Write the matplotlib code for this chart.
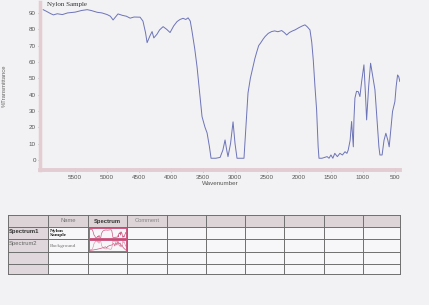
import matplotlib
matplotlib.use("Agg")
import matplotlib.pyplot as plt
from matplotlib.patches import Rectangle
from matplotlib.ticker import MultipleLocator

# ---------------- data ----------------
wavenumber = [6000, 5950, 5880, 5840, 5780, 5700, 5620, 5500, 5400, 5312, 5250, 5156,
              5080, 5000, 4950, 4907, 4860, 4830, 4760, 4700, 4640, 4580, 4485, 4440,
              4400, 4375, 4330, 4297, 4270, 4220, 4180, 4125, 4070, 4016, 3960, 3907,
              3860, 3813, 3770, 3734, 3700, 3672, 3630, 3594, 3550, 3516, 3470, 3437,
              3400, 3375, 3300, 3234, 3190, 3156, 3130, 3110, 3070, 3031, 3000, 2969,
              2900, 2860, 2830, 2797, 2760, 2725, 2690, 2661, 2630, 2600, 2560, 2531,
              2480, 2427, 2380, 2330, 2270, 2230, 2192, 2150, 2100, 2062, 2000, 1950,
              1906, 1870, 1828, 1800, 1776, 1750, 1724, 1700, 1687, 1640, 1600, 1560,
              1530, 1500, 1470, 1440, 1400, 1360, 1320, 1280, 1250, 1230, 1200, 1177,
              1150, 1140, 1125, 1100, 1073, 1047, 1020, 984, 960, 942, 910, 880, 850,
              812, 780, 750, 734, 700, 670, 641, 610, 589, 560, 537, 500, 480, 458,
              440, 422]
transmittance = [92, 91, 89.5, 88.8, 89.5, 89, 90, 90.5, 91.5, 92, 91.5, 90.4,
                 90, 89, 88, 85.7, 88, 89.4, 88.5, 88, 86.8, 87.5, 87.4, 85,
                 78, 71.8, 76, 78.6, 74.7, 77, 79.6, 81.6, 80, 78, 82, 84.7,
                 86, 86.7, 86, 87, 85, 78.6, 68, 57, 40, 26.5, 20, 16.5,
                 8, 1, 1, 1.5, 6, 12.2, 6, 2, 10, 23.3, 10, 1,
                 1, 1, 20, 41, 50, 56, 62, 66, 70, 71.6, 74, 75.5,
                 77.5, 78.6, 79, 78.5, 79.2, 78, 76.5, 78, 79, 79.6, 81, 82,
                 82.7, 81.5, 79.6, 72, 61, 45, 30.6, 8, 1, 1, 1.5, 2,
                 1, 3, 1, 4, 2, 4, 3, 5, 4, 6, 12, 23.5,
                 8, 25, 37.8, 42, 41.8, 38.8, 48, 58.2, 40, 24.5, 45, 59.2, 52,
                 43, 25, 8, 3, 3, 12, 16.3, 12, 8, 20, 29.6, 35.7, 45, 52,
                 51, 48]

# background single-beam thumbnail (rough shape read from the table cell)
bg_wavenumber = [4000, 3600, 3200, 2900, 2600, 2400, 2300, 2200, 2000, 1800, 1600,
                 1500, 1400, 1300, 1200, 1100, 1000, 900, 800, 700, 600, 450]
bg_signal = [5, 10, 18, 25, 35, 42, 30, 45, 55, 60, 75, 50, 85, 60, 95, 70, 80, 55,
             60, 35, 25, 10]

y_ticks = [0, 10, 20, 30, 40, 50, 60, 70, 80, 90]
x_ticks = [5500, 5000, 4500, 4000, 3500, 3000, 2500, 2000, 1500, 1000, 500]

sample_name = "Nylon Sample"
x_label = "Wavenumber"
y_label = "%Transmittance"

table_header = ["", "Name", "Spectrum", "Comment", "", "", "", "", "", ""]
table_rows = [["Spectrum1", "Nylon\nSample"],
              ["Spectrum2", "Background"],
              ["", ""],
              ["", ""]]

# ---------------- figure ----------------
W, H = 429, 305
bg = "#f2f1f3"
fig = plt.figure(figsize=(W / 100, H / 100), dpi=100, facecolor=bg)

# main spectrum axes (pixel layout: x 40..400, y 2..170)
ax = fig.add_axes([40 / W, 1 - 170 / H, 360 / W, 168 / H])
ax.set_facecolor("none")
ax.plot(wavenumber, transmittance, color="#6c74b8", lw=0.7)
ax.set_xlim(6050, 420)
ax.set_ylim(-6.2, 96.7)
ax.set_yticks(y_ticks)
ax.set_xticks(x_ticks)
ax.xaxis.set_minor_locator(MultipleLocator(100))
for s in ["top", "right"]:
    ax.spines[s].set_visible(False)
ax.spines["left"].set_color("#e3cdd3")
ax.spines["left"].set_linewidth(2.5)
ax.spines["bottom"].set_color("#e3cdd3")
ax.spines["bottom"].set_linewidth(2.8)
ax.tick_params(axis="y", direction="out", length=1.5, width=0.5, color="#999999",
               labelsize=4.5, labelcolor="#555555", pad=1.5)
ax.tick_params(axis="x", which="major", direction="inout", length=3, width=0.5,
               color="#a08890", labelsize=4.5, labelcolor="#555555", pad=2)
ax.tick_params(axis="x", which="minor", direction="inout", length=1.5, width=0.4,
               color="#b09aa0")
for lab in ax.get_xticklabels() + ax.get_yticklabels():
    lab.set_fontfamily("Liberation Sans")
ax.set_xlabel(x_label, fontsize=4.5, color="#555555", labelpad=0.5,
              fontfamily="Liberation Sans")
ax.set_ylabel(y_label, fontsize=4.2, color="#666666",
              fontfamily="Liberation Sans")
ax.yaxis.set_label_coords(-0.092, 0.5)
ax.text(0.02, 0.985, sample_name, transform=ax.transAxes, fontsize=5,
        family="Liberation Serif", color="#333333", va="center", ha="left")

# ---------------- table ----------------
tab = fig.add_axes([0, 0, 1, 1])
tab.set_xlim(0, W)
tab.set_ylim(H, 0)
tab.axis("off")
tab.set_facecolor("none")

col_x = [8, 48, 88, 127, 167, 206, 245, 284, 324, 363, 400]
row_y = [215, 227, 239, 252, 264, 274]
shade = "#ddd4d8"
# header shading
tab.add_patch(Rectangle((col_x[0], row_y[0]), col_x[-1] - col_x[0], row_y[1] - row_y[0],
                        facecolor=shade, edgecolor="none"))
# first column shading
tab.add_patch(Rectangle((col_x[0], row_y[1]), col_x[1] - col_x[0], row_y[-1] - row_y[1],
                        facecolor="#dfd7db", edgecolor="none"))
# white cells
tab.add_patch(Rectangle((col_x[1], row_y[1]), col_x[-1] - col_x[1], row_y[-1] - row_y[1],
                        facecolor="#f7f6f8", edgecolor="none"))
for x in col_x:
    tab.plot([x, x], [row_y[0], row_y[-1]], color="#6f6f6f", lw=0.7)
for y in row_y:
    tab.plot([col_x[0], col_x[-1]], [y, y], color="#6f6f6f", lw=0.7)

hdr_styles = {"Name": ("normal", "#777777"), "Spectrum": ("bold", "#333333"),
              "Comment": ("normal", "#888888")}
for i, txt in enumerate(table_header):
    if txt:
        w, c = hdr_styles.get(txt, ("normal", "#777777"))
        tab.text((col_x[i] + col_x[i + 1]) / 2, (row_y[0] + row_y[1]) / 2, txt,
                 fontsize=4.2, ha="center", va="center", fontweight=w, color=c,
                 family="Liberation Sans")
for r, row in enumerate(table_rows):
    yc = (row_y[r + 1] + row_y[r + 2]) / 2
    if row[0]:
        tab.text(col_x[0] + 1, yc - 2, row[0], fontsize=4.2, ha="left", va="center",
                 fontweight="bold" if r == 0 else "normal",
                 color="#333333" if r == 0 else "#666666", family="Liberation Sans")
    if row[1]:
        tab.text(col_x[1] + 2, yc, row[1], fontsize=3.9, ha="left", va="center",
                 fontweight="bold" if r == 0 else "normal",
                 color="#222222" if r == 0 else "#777777", family="Liberation Serif",
                 linespacing=1.0)

# thumbnail cells with pink border
pink = "#cc5a82"
for r in range(2):
    x0, x1 = col_x[2] + 1, col_x[3] - 1
    y0, y1 = row_y[r + 1] + 1, row_y[r + 2] - 1
    th = fig.add_axes([x0 / W, 1 - y1 / H, (x1 - x0) / W, (y1 - y0) / H])
    th.set_facecolor("none")
    if r == 0:
        th.plot(wavenumber, transmittance, color=pink, lw=0.5)
        th.set_xlim(4000, 420)
        th.set_ylim(-5, 100)
    else:
        th.plot(bg_wavenumber, bg_signal, color=pink, lw=0.5)
        th.plot(wavenumber, [100 - t for t in transmittance], color="#d987a4", lw=0.4)
        th.set_xlim(4000, 420)
        th.set_ylim(0, 110)
    th.set_xticks([])
    th.set_yticks([])
    for s in th.spines.values():
        s.set_color(pink)
        s.set_linewidth(0.7)

fig.savefig("out.png", dpi=100, facecolor=bg)
